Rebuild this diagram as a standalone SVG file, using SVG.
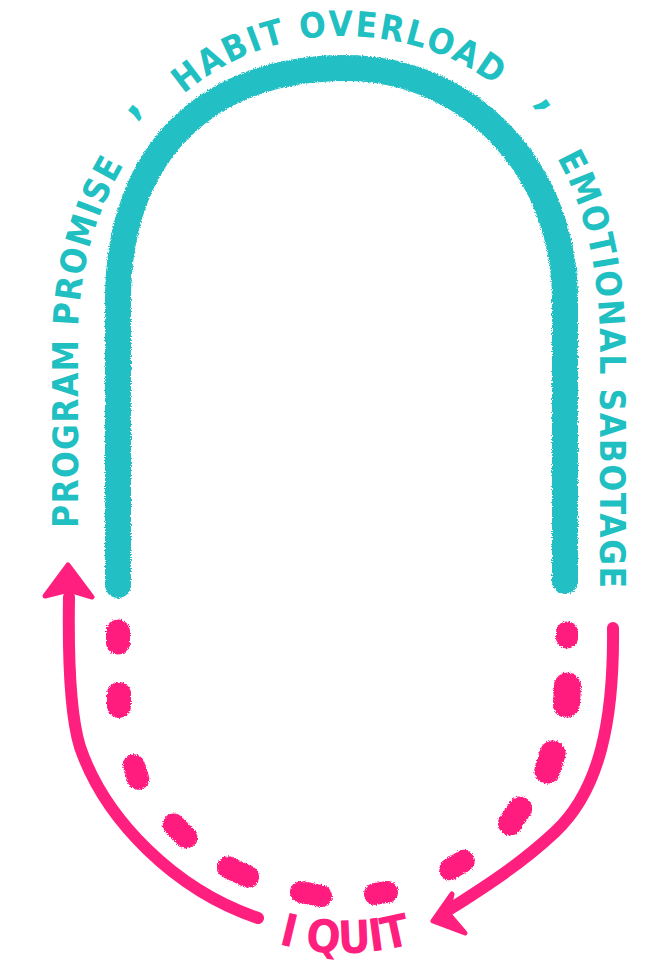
<svg xmlns="http://www.w3.org/2000/svg" width="668" height="967" viewBox="0 0 668 967">
  <defs>
    <style>
      .lbl { font-family: "Liberation Sans Narrow", "DejaVu Sans Condensed", "Roboto", sans-serif; font-weight: bold; }
      .teal-t { fill: #1fbfc2; font-size: 35px; }
      .comma { fill: #1fc6c8; font-size: 46px; }
      .pink-t { fill: #ff1f7e; font-size: 45px; }
      .teal-line { fill: none; stroke: #22c0c4; stroke-width: 26; stroke-linecap: round; stroke-linejoin: round; }
      .dash { stroke: #ff1f7e; stroke-width: 22; stroke-linecap: round; }
      .arrow { fill: none; stroke: #ff1f7e; stroke-width: 12; stroke-linecap: round; stroke-linejoin: round; }
      .head { fill: #ff1f7e; stroke: #ff1f7e; stroke-width: 5; stroke-linejoin: round; }
    </style>
    <filter id="rough" x="-5%" y="-5%" width="110%" height="110%">
      <feTurbulence type="fractalNoise" baseFrequency="0.8" numOctaves="2" seed="3" result="n"/>
      <feDisplacementMap in="SourceGraphic" in2="n" scale="4" xChannelSelector="R" yChannelSelector="G" result="d"/>
      <feGaussianBlur in="d" stdDeviation="0.7"/>
    </filter>
    <path id="ringPath" d="M78,560 V340 C78,160 200,36 340,36 C480,36 600,130 600,350 V610"/>
    <path id="quitPath" d="M220,919.5 A250,250 0 0 0 470,919.5"/>
  </defs>

  <g id="loop" filter="url(#rough)">
    <path class="teal-line" d="M118,585 V300 C118,150 210,68 345,68 C470,68 565,170 565,300 V581"/>
  </g>

  <g id="dashes" filter="url(#rough)">
    <line class="dash" style="stroke-width:24" x1="118" y1="631.5" x2="118" y2="642.5"/>
    <line class="dash" style="stroke-width:24" x1="119" y1="694" x2="119" y2="706"/>
    <line class="dash" x1="133.8" y1="765.3" x2="138.2" y2="778.7"/>
    <line class="dash" x1="173.6" y1="824.6" x2="186.4" y2="837.4"/>
    <line class="dash" x1="228" y1="867.3" x2="248" y2="876.7"/>
    <line class="dash" x1="301" y1="892" x2="321" y2="896"/>
    <line class="dash" x1="375" y1="894" x2="387" y2="892"/>
    <line class="dash" x1="450.2" y1="869.2" x2="463.8" y2="860.8"/>
    <line class="dash" style="stroke-width:24" x1="510" y1="823.5" x2="520" y2="808.5"/>
    <line class="dash" style="stroke-width:26" x1="547.3" y1="770.6" x2="552.7" y2="753.4"/>
    <line class="dash" style="stroke-width:27" x1="566.5" y1="704" x2="567.5" y2="686"/>
    <line class="dash" x1="567" y1="637.5" x2="567" y2="632.5"/>
  </g>

  <g id="connectors">
    <g id="arrow-left">
      <path class="arrow" d="M258,918 C175,890 105,820 80,747 C70,715 68,660 69,597"/>
      <polygon class="head" points="68,565 92,597 69,590 45,596"/>
    </g>
    <g id="arrow-right">
      <path class="arrow" d="M613,628 C614,720 600,790 555,832 C520,865 480,890 447,911"/>
      <polygon class="head" points="433,921 452,894 448,913 465,933"/>
    </g>
  </g>

  <g id="label-program-promise">
    <text class="lbl teal-t"><textPath href="#ringPath" startOffset="32" textLength="371" lengthAdjust="spacing">PROGRAM PROMISE</textPath></text>
  </g>
  <g id="comma-left">
    <text class="lbl comma" text-anchor="middle" transform="translate(137,113) rotate(-52)">,</text>
  </g>
  <g id="label-habit-overload">
    <text class="lbl teal-t"><textPath href="#ringPath" startOffset="496" textLength="336" lengthAdjust="spacing">HABIT OVERLOAD</textPath></text>
  </g>
  <g id="comma-right">
    <text class="lbl comma" text-anchor="middle" transform="translate(541,107) rotate(55)">,</text>
  </g>
  <g id="label-emotional-sabotage">
    <text class="lbl teal-t"><textPath href="#ringPath" startOffset="928" textLength="437" lengthAdjust="spacing">EMOTIONAL SABOTAGE</textPath></text>
  </g>
  <g id="label-i-quit">
    <text class="lbl pink-t" text-anchor="middle"><textPath href="#quitPath" startOffset="50%" textLength="135" lengthAdjust="spacing">I QUIT</textPath></text>
  </g>
</svg>
